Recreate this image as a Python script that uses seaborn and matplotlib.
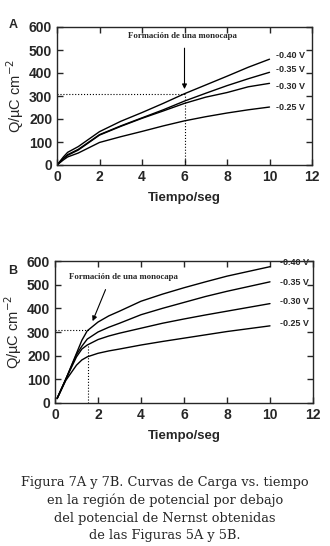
import numpy as np
import pandas as pd
import matplotlib
matplotlib.use("Agg")
import matplotlib.pyplot as plt
import seaborn as sns

# Panel A data (tiempo / seg vs carga)
t_a = [0, 0.3, 0.5, 1, 2, 3, 4, 5, 6, 7, 8, 9, 10]
qa_040 = [0, 35, 55, 80, 145, 190, 228, 268, 310, 348, 386, 425, 460]
qa_035 = [0, 28, 45, 68, 132, 170, 205, 240, 278, 312, 345, 375, 403]
qa_030 = [0, 28, 42, 65, 130, 168, 203, 235, 268, 295, 315, 340, 355]
qa_025 = [0, 22, 35, 52, 98, 123, 146, 170, 192, 210, 226, 240, 252]

# Panel B data
t_b = [0.1, 0.5, 1.0, 1.25, 1.5, 2, 2.5, 3, 4, 5, 6, 7, 8, 9, 10]
qb_040 = [20, 100, 210, 265, 305, 342, 368, 388, 430, 460, 487, 512, 536, 556, 576]
qb_035 = [20, 100, 205, 240, 270, 300, 320, 337, 373, 400, 425, 450, 472, 492, 512]
qb_030 = [20, 100, 195, 228, 245, 268, 283, 295, 316, 337, 355, 372, 388, 404, 420]
qb_025 = [18, 95, 160, 182, 195, 210, 220, 228, 245, 260, 274, 288, 302, 314, 326]

potenciales = ["-0.40 V", "-0.35 V", "-0.30 V", "-0.25 V"]
lab_y_a = [477, 415, 340, 248]
lab_y_b = [593, 508, 430, 335]

caption = ("Figura 7A y 7B. Curvas de Carga vs. tiempo\n"
           "en la región de potencial por debajo\n"
           "del potencial de Nernst obtenidas\n"
           "de las Figuras 5A y 5B.")

sns.set_style("ticks")
plt.rcParams['font.family'] = ['Liberation Sans', 'DejaVu Sans']


def make_df(t, series):
    rows = []
    for name, vals in zip(potenciales, series):
        for x, y in zip(t, vals):
            rows.append((name, x, y))
    return pd.DataFrame(rows, columns=["pot", "t", "q"])


def style_axes(ax):
    ax.set_xlim(0, 12)
    ax.set_ylim(0, 600)
    ax.set_xticks(range(0, 13, 2))
    ax.set_yticks(range(0, 601, 100))
    ax.tick_params(direction="in", top=True, right=True, length=4, width=1,
                   labelsize=10)
    for lab in ax.get_xticklabels() + ax.get_yticklabels():
        lab.set_fontweight("bold")
    for s in ax.spines.values():
        s.set_linewidth(1.0)
    ax.set_xlabel("Tiempo/seg", fontsize=9.5, fontweight="bold", labelpad=6)
    ax.set_ylabel("Q/µC cm$^{-2}$", fontsize=10.5, labelpad=2)


fig = plt.figure(figsize=(3.3, 5.46), dpi=100)

# ---- Panel A
ax1 = fig.add_axes([57/330, 1-165/546, 255/330, 138/546])
df_a = make_df(t_a, [qa_040, qa_035, qa_030, qa_025])
sns.lineplot(data=df_a, x="t", y="q", units="pot", estimator=None,
             color="black", lw=1.0, ax=ax1)
style_axes(ax1)
ax1.plot([0, 6], [310, 310], ls=":", color="black", lw=0.8)
ax1.plot([6, 6], [0, 310], ls=":", color="black", lw=0.8)
ax1.annotate("", xy=(6, 318), xytext=(6, 520),
             arrowprops=dict(arrowstyle="-|>", color="black", lw=0.8,
                             mutation_scale=7))
ax1.text(5.9, 560, "Formación de una monocapa", fontsize=6.3,
         fontweight="bold", family="Liberation Serif", ha="center",
         va="center")
for lab, y in zip(potenciales, lab_y_a):
    ax1.text(10.3, y, lab, fontsize=6.5, fontweight="bold", va="center")
fig.text(13/330, 1-25/546, "A", fontsize=9, fontweight="bold",
         ha="center", va="center")

# ---- Panel B
ax2 = fig.add_axes([55/330, 1-403/546, 258/330, 142/546])
df_b = make_df(t_b, [qb_040, qb_035, qb_030, qb_025])
sns.lineplot(data=df_b, x="t", y="q", units="pot", estimator=None,
             color="black", lw=1.0, ax=ax2)
style_axes(ax2)
ax2.plot([0, 1.6], [310, 310], ls=":", color="black", lw=0.8)
ax2.plot([1.55, 1.55], [0, 245], ls=":", color="black", lw=0.8)
ax2.annotate("", xy=(1.7, 335), xytext=(2.4, 490),
             arrowprops=dict(arrowstyle="-|>", color="black", lw=0.8,
                             mutation_scale=7))
ax2.text(0.65, 532, "Formación de una monocapa", fontsize=6.3,
         fontweight="bold", family="Liberation Serif", ha="left",
         va="center")
for lab, y in zip(potenciales, lab_y_b):
    ax2.text(10.45, y, lab, fontsize=6.5, fontweight="bold", va="center")
fig.text(13/330, 1-271/546, "B", fontsize=9, fontweight="bold",
         ha="center", va="center")

fig.text(0.5, 1-509/546, caption, family="DejaVu Serif", fontsize=9.3,
         ha="center", va="center", linespacing=1.45)

fig.savefig("out.png", dpi=100)
